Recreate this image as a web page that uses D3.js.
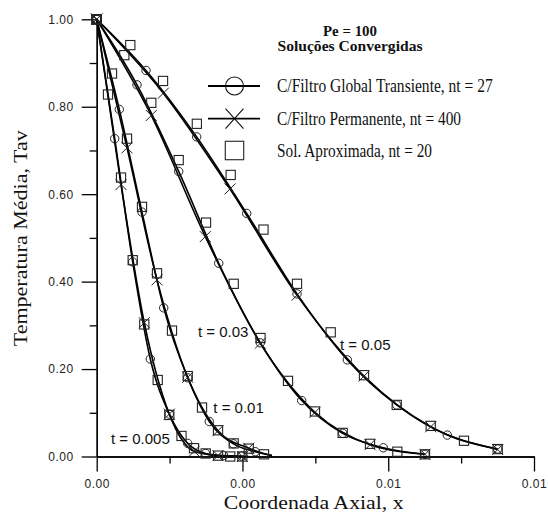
<!DOCTYPE html>
<html>
<head>
<meta charset="utf-8">
<script src="https://cdn.jsdelivr.net/npm/d3@7"></script>
<style>
  body { margin: 0; background: #fff; }
  svg { display: block; }
</style>
</head>
<body>
<svg id="chart" width="548" height="518"></svg>
<script>
// DATA  ([x, Tav] pairs)
// C/Filtro Global Transiente (circles)
var transient_005 = [[0,1],[0.000494,0.727],[0.000988,0.445],[0.001471,0.223],[0.001992,0.097],[0.002497,0.030],[0.002988,0.007],[0.003485,0.002],[0.003985,0.001]];
var transient_01  = [[0,1],[0.00062,0.794],[0.001243,0.559],[0.001839,0.340],[0.002497,0.180],[0.00309,0.080],[0.003754,0.029],[0.004352,0.011]];
var transient_03  = [[0,1],[0.001106,0.850],[0.00225,0.652],[0.003348,0.442],[0.00449,0.260],[0.005626,0.128],[0.00675,0.053],[0.007865,0.020],[0.009009,0.005]];
var transient_05  = [[0,1],[0.001353,0.883],[0.002744,0.731],[0.004116,0.556],[0.005497,0.372],[0.006877,0.221],[0.008233,0.118],[0.009621,0.049],[0.011004,0.017]];

// C/Filtro Permanente (crosses)
var permanent_005 = [[0,1],[0.000667,0.622],[0.001306,0.306],[0.001992,0.097],[0.002676,0.012],[0.003329,0.002],[0.003996,0]];
var permanent_01  = [[0,1],[0.000832,0.706],[0.001655,0.404],[0.002497,0.181],[0.003329,0.059],[0.004171,0.019]];
var permanent_03  = [[0,1],[0.001498,0.780],[0.00298,0.503],[0.00449,0.259],[0.00599,0.101],[0.0075,0.027],[0.009009,0.005]];
var permanent_05  = [[0,1],[0.001828,0.831],[0.003658,0.612],[0.005497,0.369],[0.007335,0.184],[0.009166,0.068],[0.011004,0.016]];

// Sol. Aproximada (squares)
var approx_005 = [[0,1],[0.00031,0.828],[0.000667,0.638],[0.000988,0.449],[0.001306,0.302],[0.001674,0.175],[0.001992,0.095],[0.002327,0.047],[0.00267,0.019],[0.002991,0.007],[0.003329,0.002],[0.003664,0],[0.003996,0]];
var approx_01  = [[0,1],[0.00042,0.876],[0.000832,0.727],[0.001243,0.571],[0.001655,0.419],[0.002066,0.288],[0.002497,0.184],[0.00289,0.112],[0.003329,0.060],[0.00376,0.030],[0.004171,0.018],[0.004591,0.005]];
var approx_03  = [[0,1],[0.000757,0.918],[0.001498,0.809],[0.00225,0.678],[0.003,0.535],[0.00376,0.395],[0.004495,0.271],[0.00525,0.173],[0.00599,0.103],[0.00675,0.054],[0.0075,0.029],[0.00825,0.011],[0.009009,0.005]];
var approx_05  = [[0,1],[0.000922,0.941],[0.00182,0.859],[0.002748,0.761],[0.003677,0.644],[0.004577,0.519],[0.005497,0.395],[0.006421,0.284],[0.007335,0.186],[0.008233,0.118],[0.009166,0.070],[0.010079,0.036],[0.011004,0.017]];

// where the drawn curves stop
var curve_ends = [[0.00416,0],[0.00481,0.002],[0.009009,0.005],[0.011004,0.017]];

var time_labels = ["t = 0.005", "t = 0.01", "t = 0.03", "t = 0.05"];
var label_at = [[0.000392,0.028],[0.0032,0.099],[0.00278,0.273],[0.006677,0.244]];

var x_ticks = [0, 0.004, 0.008, 0.012];
var x_minor = [0.002, 0.006, 0.010];
var y_ticks = [0, 0.2, 0.4, 0.6, 0.8, 1.0];
var y_minor = [0.1, 0.3, 0.5, 0.7, 0.9];

var title_lines = ["Pe = 100", "Soluções Convergidas"];
var legend_labels = ["C/Filtro Global Transiente, nt = 27", "C/Filtro Permanente, nt = 400", "Sol. Aproximada, nt = 20"];

var transient_sets = [transient_005, transient_01, transient_03, transient_05];
var permanent_sets = [permanent_005, permanent_01, permanent_03, permanent_05];
var approx_sets = [approx_005, approx_01, approx_03, approx_05];

// LAYOUT
var svg = d3.select("#chart");
var sans = "'Liberation Sans', Arial, sans-serif";
var serif = "'Liberation Serif', 'Times New Roman', serif";

var x = d3.scaleLinear().domain([0, 0.012]).range([96.7, 534]);
var y = d3.scaleLinear().domain([0, 1]).range([456.5, 19.3]);

// AXES
function styleAxis(g) {
    g.select(".domain").attr("stroke", "#000").attr("stroke-width", 1.3);
    g.selectAll(".tick line").attr("stroke", "#000").attr("stroke-width", 1.3);
    g.selectAll(".tick text")
        .attr("fill", "#222")
        .style("font-family", sans)
        .style("font-size", "12px")
        .style("letter-spacing", "0.5px");
}

svg.append("g")
    .attr("transform", `translate(0, ${y(0)})`)
    .call(d3.axisBottom(x).tickValues(x_minor).tickSize(7).tickSizeOuter(0).tickFormat(""))
    .call(styleAxis);
svg.append("g")
    .attr("transform", `translate(0, ${y(0)})`)
    .call(d3.axisBottom(x).tickValues(x_ticks).tickSize(15).tickSizeOuter(0).tickPadding(8).tickFormat(d3.format(".2f")))
    .call(styleAxis);
svg.append("g")
    .attr("transform", `translate(${x(0)}, 0)`)
    .call(d3.axisLeft(y).tickValues(y_minor).tickSize(7).tickSizeOuter(0).tickFormat(""))
    .call(styleAxis);
svg.append("g")
    .attr("transform", `translate(${x(0)}, 0)`)
    .call(d3.axisLeft(y).tickValues(y_ticks).tickSize(15).tickSizeOuter(0).tickPadding(8).tickFormat(d3.format(".2f")))
    .call(styleAxis);

// axis titles
svg.append("text")
    .attr("transform", "translate(26.5, 238.3) rotate(-90)")
    .attr("text-anchor", "middle")
    .attr("textLength", 216)
    .attr("lengthAdjust", "spacingAndGlyphs")
    .style("font-family", serif)
    .style("font-size", "19px")
    .attr("fill", "#111")
    .text("Temperatura Média, Tav");
svg.append("text")
    .attr("x", 313.7)
    .attr("y", 509)
    .attr("text-anchor", "middle")
    .attr("textLength", 180)
    .attr("lengthAdjust", "spacingAndGlyphs")
    .style("font-family", serif)
    .style("font-size", "18px")
    .attr("fill", "#111")
    .text("Coordenada Axial, x");

// CURVES
var line = d3.line()
    .curve(d3.curveMonotoneX)
    .x(function(d) { return x(d[0]) })
    .y(function(d) { return y(d[1]) });

function withEnd(data, end) {
    var last = data[data.length - 1];
    return end[0] > last[0] ? data.concat([end]) : data;
}

var curves = svg.append("g");
for (let i = 0; i < transient_sets.length; i++) {
    curves.append("path")
        .datum(withEnd(transient_sets[i], curve_ends[i]))
        .attr("fill", "none")
        .attr("stroke", "#000")
        .attr("stroke-width", 1.6)
        .attr("d", line);
    curves.append("path")
        .datum(withEnd(permanent_sets[i], curve_ends[i]))
        .attr("fill", "none")
        .attr("stroke", "#000")
        .attr("stroke-width", 1.6)
        .attr("d", line);
}

// MARKERS
var cross = "M-5.5,-5.5L5.5,5.5M-5.5,5.5L5.5,-5.5";
var marks = svg.append("g");
for (let i = 0; i < transient_sets.length; i++) {
    marks.selectAll(null)
        .data(approx_sets[i])
        .enter()
        .append("rect")
            .attr("x", function(d) { return x(d[0]) - 4.6 })
            .attr("y", function(d) { return y(d[1]) - 4.6 })
            .attr("width", 9.2)
            .attr("height", 9.2)
            .attr("fill", "none")
            .attr("stroke", "#222")
            .attr("stroke-width", 1.1);
    marks.selectAll(null)
        .data(transient_sets[i])
        .enter()
        .append("circle")
            .attr("cx", function(d) { return x(d[0]) })
            .attr("cy", function(d) { return y(d[1]) })
            .attr("r", 4.2)
            .attr("fill", "none")
            .attr("stroke", "#222")
            .attr("stroke-width", 1);
    marks.selectAll(null)
        .data(permanent_sets[i])
        .enter()
        .append("path")
            .attr("transform", function(d) { return `translate(${x(d[0])}, ${y(d[1])})` })
            .attr("d", cross)
            .attr("fill", "none")
            .attr("stroke", "#222")
            .attr("stroke-width", 1);
}

// time labels
svg.append("g")
    .selectAll("text")
    .data(time_labels)
    .enter()
    .append("text")
        .attr("x", function(d, i) { return x(label_at[i][0]) })
        .attr("y", function(d, i) { return y(label_at[i][1]) })
        .attr("fill", "#111")
        .style("font-family", sans)
        .style("font-size", "15px")
        .text(function(d) { return d });

// LEGEND
var legend = svg.append("g");
legend.selectAll("text.title")
    .data(title_lines)
    .enter()
    .append("text")
        .attr("class", "title")
        .attr("x", 350)
        .attr("y", function(d, i) { return 36 + i * 14.7 })
        .attr("text-anchor", "middle")
        .attr("textLength", function(d, i) { return i == 0 ? 54 : 145 })
        .attr("lengthAdjust", "spacingAndGlyphs")
        .attr("fill", "#111")
        .style("font-family", serif)
        .style("font-size", "15px")
        .style("font-weight", "bold")
        .text(function(d) { return d });

var rows = [86, 118.6, 150.5];
var widths = [215.7, 184, 155];
legend.selectAll("text.entry")
    .data(legend_labels)
    .enter()
    .append("text")
        .attr("class", "entry")
        .attr("x", 277)
        .attr("y", function(d, i) { return rows[i] + 6 })
        .attr("textLength", function(d, i) { return widths[i] })
        .attr("lengthAdjust", "spacingAndGlyphs")
        .attr("fill", "#111")
        .style("font-family", serif)
        .style("font-size", "18px")
        .text(function(d) { return d });

for (let i = 0; i < 2; i++) {
    legend.append("line")
        .attr("x1", 208).attr("x2", 260)
        .attr("y1", rows[i]).attr("y2", rows[i])
        .attr("stroke", "#000")
        .attr("stroke-width", 1.8);
}
legend.append("circle")
    .attr("cx", 234.5).attr("cy", rows[0]).attr("r", 9)
    .attr("fill", "none").attr("stroke", "#111").attr("stroke-width", 1.1);
legend.append("path")
    .attr("transform", `translate(234.5, ${rows[1]})`)
    .attr("d", "M-9,-10L9,10M-9,10L9,-10")
    .attr("fill", "none").attr("stroke", "#111").attr("stroke-width", 1.1);
legend.append("rect")
    .attr("x", 225.3).attr("y", rows[2] - 9.2)
    .attr("width", 18.4).attr("height", 18.4)
    .attr("fill", "none").attr("stroke", "#333").attr("stroke-width", 1.2);
</script>
</body>
</html>
